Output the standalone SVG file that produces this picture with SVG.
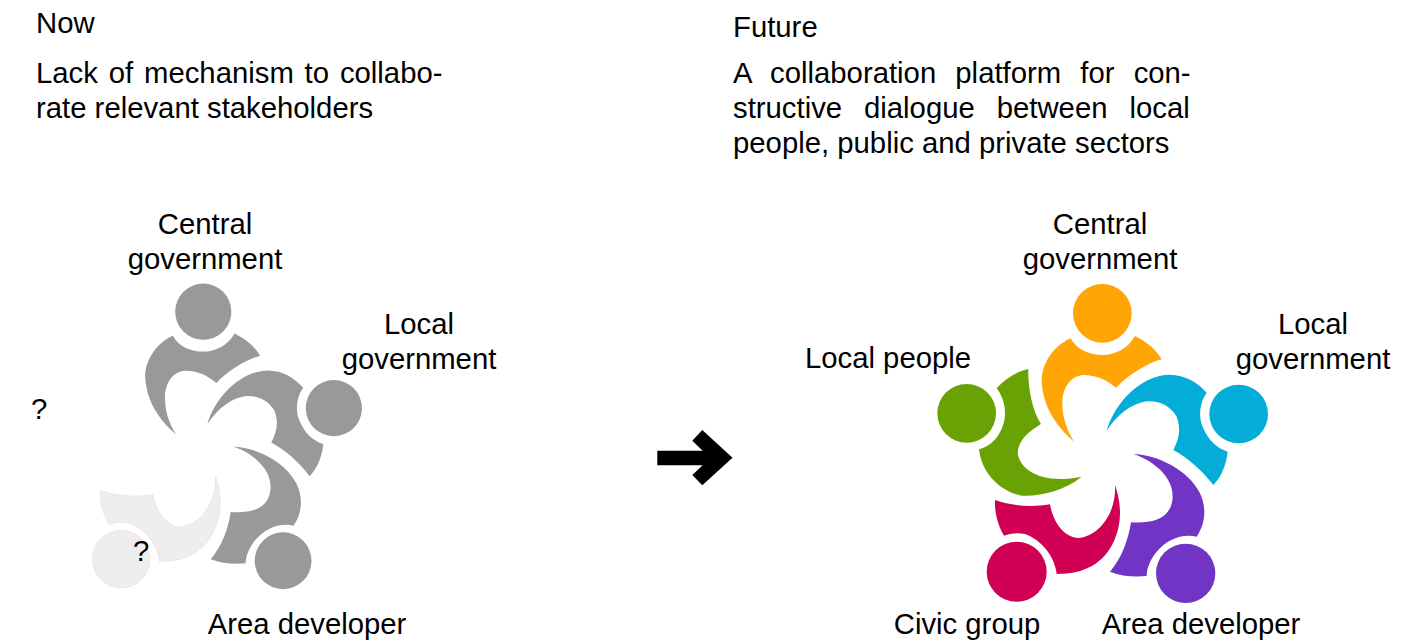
<svg xmlns="http://www.w3.org/2000/svg" xmlns:xlink="http://www.w3.org/1999/xlink" width="1426" height="642" viewBox="0 0 1426 642">
<style>
text{font-family:"Liberation Sans",Arial,sans-serif;font-size:29.3px;fill:#000}
.m{text-anchor:middle}
.grey{fill:#999}
.ghost{fill:#efeded;stroke:#e8dcdc;stroke-width:2}
</style>
<defs>
<path id="bTop" d="M437 205C455 240 495 255 532 255C570 255 610 235 630 198C665 215 695 240 710 268C665 280 610 315 573 353C545 330 515 315 475 315C435 318 412 355 412 400C412 445 428 485 447 515C395 470 352 410 350 330C352 275 390 225 437 205Z"/>
<path id="bRight" d="M545 482C570 395 650 315 735 314C780 315 815 335 845 368C825 395 818 440 835 475C850 510 875 535 908 545C903 585 890 620 865 645C830 600 790 565 745 540C760 510 770 480 755 440C735 405 700 392 665 394C620 400 575 435 545 482Z"/>
<path id="bLow" d="M625 552C700 555 790 600 825 670C845 715 842 760 815 800C770 790 725 810 695 845C675 870 665 895 665 918C625 922 590 918 555 905C590 865 610 810 618 757C665 760 715 755 735 715C755 670 735 625 700 595C680 575 650 560 625 552Z"/>
<path id="bBot" d="M210 690C260 708 320 712 375 703C385 760 420 803 460 804C520 800 575 730 570 645C595 715 590 790 545 850C505 900 450 912 395 912C390 860 350 810 300 792C275 787 255 790 237 797C218 765 208 725 210 690Z"/>
<path id="bLeft" d="M310 297C308 345 320 420 348 462C310 485 280 510 278 550C285 600 350 645 470 620C420 660 350 680 290 677C225 665 170 610 162 538C205 530 240 480 240 430C240 400 230 375 215 355C240 325 275 305 310 297Z"/>
</defs>

<g id="now-heading">
<text x="36" y="33">Now</text>
<text x="36" y="83" word-spacing="2.7">Lack of mechanism to collabo-</text>
<text x="36" y="118">rate relevant stakeholders</text>
</g>
<g id="future-heading">
<text x="733" y="37">Future</text>
<text x="733" y="83" word-spacing="11">A collaboration platform for con-</text>
<text x="733" y="118" word-spacing="13.8">structive dialogue between local</text>
<text x="733" y="153">people, public and private sectors</text>
</g>

<g id="now-figures" transform="translate(33.4 270.2) scale(.3193)">
<g id="now-central" class="grey"><circle cx="532" cy="130" r="88"/><use xlink:href="#bTop" href="#bTop"/></g>
<g id="now-local" class="grey"><circle cx="941" cy="432" r="88"/><use xlink:href="#bRight" href="#bRight"/></g>
<g id="now-developer" class="grey"><circle cx="782" cy="910" r="89"/><use xlink:href="#bLow" href="#bLow"/></g>
<g id="now-unknown" class="ghost"><circle cx="275" cy="905" r="90"/><use xlink:href="#bBot" href="#bBot"/></g>
</g>
<g id="now-labels">
<text class="m" x="205" y="234">Central</text>
<text class="m" x="205" y="269">government</text>
<text class="m" x="419" y="334">Local</text>
<text class="m" x="419" y="369">government</text>
<text class="m" x="307" y="634">Area developer</text>
<text x="31" y="419">?</text>
<text x="133" y="561">?</text>
</g>

<g id="connectors">
<polygon points="657.3,450.7 702.7,450.7 692.3,440.7 702.3,430 732.5,457.7 702.3,485.3 692.3,475 702.7,465.3 657.3,465.3" fill="#000"/>
</g>

<g id="future-figures" transform="translate(925 270) scale(.33333)">
<g id="future-central" fill="#ffa505"><circle cx="532" cy="130" r="88"/><use xlink:href="#bTop" href="#bTop"/></g>
<g id="future-local" fill="#04acd8"><circle cx="941" cy="432" r="88"/><use xlink:href="#bRight" href="#bRight"/></g>
<g id="future-developer" fill="#7035c4"><circle cx="782" cy="910" r="89"/><use xlink:href="#bLow" href="#bLow"/></g>
<g id="future-civic" fill="#d00055"><circle cx="275" cy="905" r="90"/><use xlink:href="#bBot" href="#bBot"/></g>
<g id="future-people" fill="#69a205"><circle cx="125" cy="430" r="88"/><use xlink:href="#bLeft" href="#bLeft"/></g>
</g>
<g id="future-labels">
<text class="m" x="1100" y="234">Central</text>
<text class="m" x="1100" y="269">government</text>
<text class="m" x="1313" y="334">Local</text>
<text class="m" x="1313" y="369">government</text>
<text class="m" x="888" y="368">Local people</text>
<text class="m" x="967" y="634">Civic group</text>
<text class="m" x="1201" y="634">Area developer</text>
</g>
</svg>
